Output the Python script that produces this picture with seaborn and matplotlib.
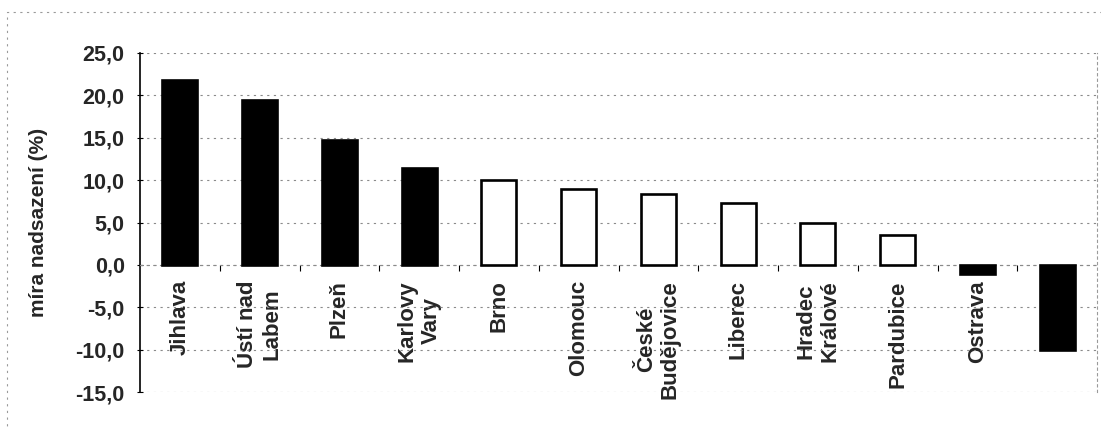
import matplotlib
matplotlib.use("Agg")
import matplotlib.pyplot as plt
from matplotlib.ticker import FixedLocator, FuncFormatter, NullFormatter
from matplotlib.patches import Rectangle
import seaborn as sns

# Míra nadsazení podle měst (%)
cities = ["Jihlava", "Ústí nad\nLabem", "Plzeň", "Karlovy\nVary", "Brno",
          "Olomouc", "České\nBudějovice", "Liberec", "Hradec\nKrálové",
          "Pardubice", "Ostrava", ""]
values = [21.8, 19.5, 14.7, 11.4, 10.0, 8.9, 8.4, 7.3, 5.0, 3.5, -1.1, -10.1]
fills = ["black", "black", "black", "black", "white", "white", "white",
         "white", "white", "white", "black", "black"]
y_ticks = [-15, -10, -5, 0, 5, 10, 15, 20, 25]
y_label = "míra nadsazení (%)"

sns.set_style("white")
plt.rcParams["font.family"] = ["Liberation Sans", "DejaVu Sans"]
plt.rcParams["font.weight"] = "bold"

fig = plt.figure(figsize=(11.01, 4.28), dpi=100)
ax = fig.add_axes([140 / 1101, 36 / 428, 957 / 1101, 339 / 428])

sns.barplot(x=cities, y=values, hue=cities, palette=fills, legend=False,
            width=0.44, edgecolor="black", linewidth=1.9, saturation=1,
            ax=ax, zorder=3)

ax.set_xlim(-0.5, len(cities) - 0.5)
ax.set_ylim(y_ticks[0], y_ticks[-1])

# dotted horizontal gridlines
ax.yaxis.set_major_locator(FixedLocator(y_ticks))
ax.yaxis.set_major_formatter(FuncFormatter(lambda v, p: f"{v:.1f}".replace(".", ",")))
ax.grid(axis="y", color="#8a8a8a", linestyle=(0, (2, 4)), linewidth=0.8, zorder=0)
ax.grid(axis="x", visible=False)

# category axis sits on the zero line
ax.spines["bottom"].set_position(("data", 0))
ax.spines["bottom"].set_color("#8a8a8a")
ax.spines["bottom"].set_linestyle((0, (2, 4)))
ax.spines["bottom"].set_linewidth(0.8)
ax.spines["top"].set_visible(False)
ax.spines["right"].set_color("#9a9a9a")
ax.spines["right"].set_linestyle((0, (2, 3)))
ax.spines["right"].set_linewidth(0.8)
ax.spines["left"].set_color("black")
ax.spines["left"].set_linewidth(1.2)

ax.set_xticks(range(len(cities)))
ax.set_xticklabels(cities, rotation=90, fontsize=16, fontweight="bold",
                   va="top", ha="center", multialignment="center")
ax.tick_params(axis="x", which="major", length=0, pad=11)
ax.xaxis.set_minor_locator(FixedLocator([i + 0.5 for i in range(len(cities) - 1)]))
ax.xaxis.set_minor_formatter(NullFormatter())
ax.tick_params(axis="x", which="minor", direction="out", length=4,
               width=0.8, color="black", bottom=True)

ax.tick_params(axis="y", which="major", direction="inout", length=4,
               width=0.8, color="black", left=True, pad=9, labelsize=15.5)
for lab in ax.get_yticklabels():
    lab.set_fontweight("bold")

ax.set_ylabel(y_label, fontsize=15, fontweight="bold", labelpad=20)

# dotted chart-area border
fig.patches.append(Rectangle((7 / 1101, -0.1), 1.2, 1 - 12 / 428 + 0.1,
                             transform=fig.transFigure, fill=False,
                             edgecolor="#9a9a9a", linewidth=0.8,
                             linestyle=(0, (2, 4))))

fig.savefig("out.png", dpi=100)
